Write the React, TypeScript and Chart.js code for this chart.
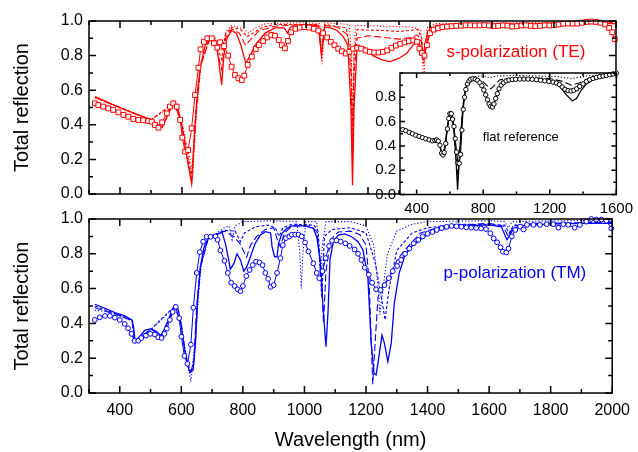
import React, { useEffect, useRef } from "react";
import { Chart, registerables } from "chart.js";

Chart.register(...registerables);

const FONT = "'Liberation Sans', Arial, Helvetica, sans-serif";
const RED = "#ff0000";
const BLUE = "#0000ff";
const BLACK = "#000000";

// ---------- tick labels ----------
const mainXTicks = [400, 600, 800, 1000, 1200, 1400, 1600, 1800, 2000];
const mainXMinor = [300, 500, 700, 900, 1100, 1300, 1500, 1700, 1900];
const mainYTicks = [0, 0.2, 0.4, 0.6, 0.8, 1.0];
const mainYMinor = [0.1, 0.3, 0.5, 0.7, 0.9];
const insetXTicks = [400, 800, 1200, 1600];
const insetXMinor = [600, 1000, 1400];
const insetYTicks = [0, 0.2, 0.4, 0.6, 0.8];
const insetYMinor = [0.1, 0.3, 0.5, 0.7, 0.9, 1.0];

// ---------- s-polarization (TE) ----------
const teExpWl = [319,330,346,362,378,395,411,427,443,459,475,491,502,513,524,536,551,561,572,583,594,601,610,620,631,642,653,660,671,682,696,703,714,723,736,749,760,771,782,793,801,812,825,838,848,862,875,888,900,912,922,932,942,952,966,980,995,1010,1025,1040,1055,1068,1080,1092,1104,1116,1128,1140,1152,1165,1178,1192,1206,1220,1234,1248,1262,1276,1290,1304,1318,1332,1346,1358,1366,1374,1382,1390,1400,1412,1426,1440,1455,1470,1485,1500,1515,1530,1545,1560,1575,1590,1605,1620,1635,1650,1665,1680,1695,1710,1725,1740,1755,1770,1785,1800,1815,1830,1845,1860,1875,1890,1905,1920,1935,1950,1965,1978,1988,1996];
const teExpR = [.524,.514,.505,.495,.486,.472,.457,.447,.434,.428,.426,.422,.418,.399,.383,.414,.466,.505,.524,.505,.428,.326,.245,.254,.380,.572,.730,.836,.880,.900,.900,.871,.846,.877,.855,.800,.736,.688,.669,.659,.684,.746,.794,.838,.861,.884,.905,.920,.915,.890,.860,.842,.885,.935,.955,.962,.965,.962,.955,.945,.930,.905,.880,.860,.840,.825,.812,.822,.840,.845,.840,.830,.822,.818,.818,.822,.830,.845,.858,.868,.876,.884,.888,.880,.840,.815,.800,.860,.930,.950,.958,.965,.968,.970,.972,.973,.975,.975,.974,.975,.976,.974,.970,.972,.975,.973,.968,.970,.974,.975,.972,.970,.972,.975,.974,.976,.980,.984,.986,.985,.985,.990,.995,.997,.995,.990,.980,.960,.935,.895];

const teSolidWl = [320,360,400,450,500,520,535,550,565,575,585,600,615,631,640,650,660,675,690,705,715,728,735,745,760,775,790,806,820,836,868,900,930,940,950,1000,1040,1050,1060,1080,1100,1120,1135,1145,1150,1155,1165,1190,1216,1245,1271,1300,1326,1345,1360,1370,1377,1385,1400,1450,1500,1600,1700,1800,1900,2000];
const teSolidR = [.563,.530,.500,.463,.430,.405,.385,.440,.510,.535,.510,.385,.220,.060,.350,.600,.740,.860,.900,.890,.820,.630,.800,.900,.945,.930,.860,.755,.800,.860,.930,.960,.960,.930,.965,.975,.970,.800,.965,.960,.945,.910,.860,.500,.050,.500,.860,.845,.800,.775,.765,.785,.815,.860,.880,.850,.785,.850,.940,.970,.975,.978,.978,.980,.985,.985];

const teDashWl = [320,400,500,535,575,600,615,632,645,660,690,705,728,740,760,785,805,825,850,900,1000,1040,1050,1060,1100,1135,1145,1150,1155,1165,1200,1250,1300,1340,1360,1372,1378,1385,1400,1420,1500,1700,2000];
const teDashR = [.560,.498,.428,.383,.533,.390,.230,.080,.450,.740,.900,.890,.720,.900,.955,.930,.860,.900,.945,.970,.980,.975,.820,.975,.965,.920,.700,.200,.700,.900,.915,.905,.895,.905,.920,.880,.800,.880,.960,.975,.980,.985,.988];

const teShortWl = [320,500,575,600,615,633,645,660,690,705,728,740,760,790,810,830,860,900,1040,1050,1060,1130,1145,1150,1155,1165,1250,1300,1360,1374,1380,1386,1400,1450,2000];
const teShortR = [.558,.428,.530,.400,.250,.100,.480,.750,.900,.890,.780,.920,.965,.950,.910,.930,.965,.980,.980,.800,.980,.960,.800,.300,.800,.950,.945,.940,.950,.900,.750,.900,.960,.980,.990];

const teDotWl = [320,500,575,600,615,635,648,662,690,710,728,742,760,800,815,835,870,1000,1045,1052,1060,1140,1146,1150,1154,1160,1250,1340,1370,1380,1390,1420,2000];
const teDotR = [.555,.426,.525,.420,.280,.130,.500,.760,.905,.900,.830,.940,.975,.955,.930,.960,.985,.990,.985,.750,.990,.980,.800,.400,.800,.975,.970,.965,.950,.650,.960,.985,.995];

// ---------- p-polarization (TM) ----------
const tmExpWl = [319,335,352,368,384,400,416,427,438,448,460,470,485,499,514,525,536,545,553,563,572,582,593,600,610,620,631,639,650,660,671,682,695,711,718,727,740,751,762,773,783,792,800,811,822,832,843,854,864,873,882,890,900,911,922,930,940,951,959,970,981,991,1002,1013,1029,1040,1048,1059,1069,1080,1090,1104,1118,1133,1147,1163,1174,1185,1196,1209,1220,1233,1247,1260,1274,1287,1301,1314,1327,1341,1355,1370,1384,1400,1416,1430,1446,1462,1478,1494,1510,1526,1542,1558,1574,1590,1604,1615,1626,1637,1645,1656,1663,1674,1685,1701,1712,1723,1744,1765,1787,1808,1825,1841,1857,1878,1895,1916,1932,1948,1965,1981,1997];
const tmExpR = [.420,.435,.443,.443,.433,.420,.397,.372,.340,.300,.300,.316,.330,.340,.336,.320,.316,.340,.370,.420,.466,.495,.430,.324,.213,.168,.278,.490,.690,.810,.870,.898,.898,.900,.880,.820,.760,.690,.634,.615,.596,.585,.615,.672,.707,.735,.755,.750,.735,.690,.656,.610,.620,.690,.775,.850,.890,.900,.910,.910,.910,.900,.865,.814,.745,.690,.660,.700,.775,.845,.875,.877,.870,.860,.845,.825,.800,.765,.720,.680,.634,.596,.592,.620,.660,.700,.730,.765,.800,.830,.860,.880,.900,.915,.925,.937,.948,.955,.960,.958,.955,.952,.950,.948,.946,.942,.918,.889,.866,.837,.812,.808,.830,.900,.937,.956,.940,.966,.966,.966,.970,.970,.950,.970,.966,.950,.966,.985,1.0,.997,.997,.990,.946];

const tmSolidWl = [319,352,384,416,440,445,450,464,481,502,518,534,550,566,579,590,600,611,625,638,646,653,662,674,687,700,716,732,743,754,759,771,781,792,803,813,824,840,857,873,890,895,903,911,916,927,943,959,1002,1029,1040,1051,1061,1070,1077,1083,1094,1110,1131,1153,1174,1190,1206,1217,1226,1233,1242,1252,1260,1271,1282,1292,1308,1325,1346,1368,1389,1411,1432,1470,1520,1600,1640,1658,1680,1720,1800,1900,2000];
const tmSolidR = [.510,.487,.462,.443,.420,.380,.290,.324,.360,.370,.354,.330,.383,.458,.505,.480,.383,.247,.132,.130,.285,.535,.726,.840,.887,.898,.910,.925,.860,.765,.710,.745,.800,.765,.700,.726,.780,.860,.908,.927,.920,.840,.783,.783,.860,.918,.946,.960,.960,.946,.898,.765,.477,.266,.477,.765,.870,.908,.914,.898,.870,.822,.668,.285,.113,.104,.209,.333,.285,.180,.285,.515,.690,.783,.840,.870,.898,.918,.933,.950,.960,.966,.955,.880,.946,.966,.970,.975,.975];

const tmDashWl = [319,384,440,448,464,502,534,579,600,611,628,640,650,662,687,716,740,770,790,812,825,845,873,900,912,922,935,960,1020,1040,1055,1062,1070,1085,1110,1150,1180,1200,1210,1217,1222,1230,1239,1255,1271,1300,1325,1377,1450,1600,1645,1662,1680,1750,2000];
const tmDashR = [.490,.455,.415,.300,.320,.365,.330,.500,.390,.250,.120,.160,.500,.720,.885,.910,.930,.900,.860,.780,.850,.900,.940,.950,.880,.840,.920,.960,.960,.930,.700,.400,.700,.880,.925,.930,.910,.850,.650,.300,.050,.300,.550,.620,.650,.760,.820,.920,.960,.975,.960,.900,.960,.975,.980];

const tmShortWl = [319,384,440,448,502,579,600,611,630,642,652,662,687,716,740,775,792,805,840,880,905,918,930,960,1030,1045,1056,1065,1090,1150,1200,1230,1250,1262,1275,1300,1350,1400,1500,1650,1665,1680,2000];
const tmShortR = [.500,.458,.418,.300,.368,.500,.390,.250,.110,.200,.520,.730,.890,.915,.935,.930,.870,.920,.955,.965,.950,.900,.950,.970,.965,.930,.550,.900,.940,.950,.920,.750,.550,.420,.600,.820,.920,.950,.970,.965,.920,.965,.985];

const tmDotWl = [319,352,384,440,448,502,579,600,615,631,645,655,665,687,716,740,755,765,775,800,900,975,985,990,995,1005,1040,1048,1052,1058,1070,1150,1200,1225,1240,1245,1255,1270,1300,1350,1400,1600,1650,1662,1675,2000];
const tmDotR = [.475,.470,.452,.415,.300,.365,.495,.400,.220,.065,.300,.550,.740,.890,.920,.950,.960,.880,.960,.985,.990,.985,.800,.600,.800,.985,.985,.800,.650,.850,.985,.985,.960,.850,.600,.450,.600,.800,.930,.970,.985,.990,.985,.950,.985,.995];

// ---------- flat reference (inset) ----------
const flatExpWl = [316,335,355,375,395,415,435,455,475,495,510,520,530,540,550,558,566,575,585,593,600,608,616,624,632,640,648,656,664,672,680,688,696,705,715,725,738,752,766,780,792,804,815,826,836,845,855,865,875,885,895,908,922,938,955,975,995,1020,1045,1070,1095,1120,1145,1170,1195,1220,1240,1258,1275,1292,1310,1328,1345,1362,1380,1400,1420,1440,1460,1480,1500,1520,1540,1560,1580,1600];
const flatExpR = [.534,.525,.512,.500,.488,.478,.468,.458,.450,.442,.445,.450,.440,.406,.340,.325,.345,.420,.540,.625,.665,.665,.620,.560,.460,.350,.260,.256,.330,.530,.700,.800,.865,.910,.935,.948,.953,.950,.940,.920,.895,.860,.820,.780,.745,.725,.720,.745,.790,.830,.870,.900,.920,.935,.942,.946,.948,.950,.950,.950,.948,.945,.940,.935,.930,.925,.918,.905,.885,.865,.855,.852,.858,.870,.890,.910,.930,.945,.955,.963,.970,.975,.980,.986,.992,.998];

const flatSolidWl = [316,400,500,520,535,550,558,570,585,600,612,625,638,646,655,668,680,692,705,725,745,770,795,815,835,848,862,880,900,925,970,1050,1150,1220,1260,1300,1336,1360,1390,1420,1460,1520,1600];
const flatSolidR = [.535,.485,.442,.452,.425,.340,.320,.390,.560,.670,.650,.520,.250,.040,.250,.550,.740,.860,.920,.950,.955,.940,.890,.820,.745,.720,.740,.820,.890,.925,.945,.950,.940,.925,.890,.820,.770,.790,.860,.910,.945,.965,.985];

const flatDashWl = [316,400,500,520,535,550,558,570,585,600,612,625,638,648,658,668,680,692,705,725,745,790,820,845,870,900,1000,1200,1280,1330,1380,1440,1600];
const flatDashR = [.533,.483,.440,.450,.423,.345,.330,.395,.560,.665,.645,.525,.300,.150,.300,.560,.745,.865,.925,.955,.960,.940,.900,.870,.900,.945,.960,.955,.930,.900,.920,.960,.990];

const flatDotWl = [316,400,500,520,535,550,558,570,585,600,612,625,640,650,660,670,682,695,710,745,800,840,880,1000,1250,1330,1420,1600];
const flatDotR = [.530,.480,.438,.448,.420,.350,.340,.400,.560,.660,.640,.530,.350,.250,.350,.570,.760,.875,.930,.970,.975,.960,.975,.980,.970,.955,.975,.995];

// ---------- helpers ----------
type P = { x: number; y: number };
const pts = (xs: number[], ys: number[]): P[] => xs.map((x, i) => ({ x, y: ys[i] }));

function simLine(xs: number[], ys: number[], color: string, style: string) {
  const dash =
    style === "dash" ? [7, 3] : style === "short" ? [3, 2] : style === "dot" ? [1.2, 2] : [];
  return {
    data: pts(xs, ys),
    borderColor: color,
    borderWidth: style === "solid" ? 1.3 : 1.1,
    borderDash: dash,
    pointRadius: 0,
    fill: false,
    tension: 0,
  };
}

function expLine(xs: number[], ys: number[], color: string, pointStyle: string, r: number) {
  return {
    data: pts(xs, ys),
    borderColor: color,
    borderWidth: 1,
    pointStyle,
    pointRadius: r,
    pointBorderColor: color,
    pointBackgroundColor: "#ffffff",
    pointBorderWidth: 1,
    fill: false,
    tension: 0,
    clip: 4,
  };
}

interface TickCfg {
  xMajor: number[];
  xMinor: number[];
  yMajor: number[];
  yMinor: number[];
  maj: number;
  min: number;
  lw: number;
  white?: boolean;
}

function framePlugin(cfg: TickCfg) {
  return {
    id: "frameTicks",
    beforeDraw(chart: any) {
      if (!cfg.white) return;
      const { ctx, chartArea: a } = chart;
      ctx.save();
      ctx.fillStyle = "#ffffff";
      ctx.fillRect(a.left, a.top, a.right - a.left, a.bottom - a.top);
      ctx.restore();
    },
    afterDatasetsDraw(chart: any) {
      const { ctx, chartArea: a } = chart;
      const sx = chart.scales.x;
      const sy = chart.scales.y;
      ctx.save();
      ctx.strokeStyle = BLACK;
      ctx.lineWidth = cfg.lw;
      ctx.beginPath();
      const xt = (vals: number[], len: number) =>
        vals.forEach((v) => {
          const p = sx.getPixelForValue(v);
          ctx.moveTo(p, a.top);
          ctx.lineTo(p, a.top + len);
          ctx.moveTo(p, a.bottom);
          ctx.lineTo(p, a.bottom - len);
        });
      const yt = (vals: number[], len: number) =>
        vals.forEach((v) => {
          const p = sy.getPixelForValue(v);
          ctx.moveTo(a.left, p);
          ctx.lineTo(a.left + len, p);
          ctx.moveTo(a.right, p);
          ctx.lineTo(a.right - len, p);
        });
      xt(cfg.xMajor, cfg.maj);
      xt(cfg.xMinor, cfg.min);
      yt(cfg.yMajor, cfg.maj);
      yt(cfg.yMinor, cfg.min);
      ctx.stroke();
      ctx.strokeRect(a.left, a.top, a.right - a.left, a.bottom - a.top);
      ctx.restore();
    },
  };
}

function textPlugin(items: { text: string; x: number; y: number; color: string; size: number }[]) {
  return {
    id: "annot",
    afterDraw(chart: any) {
      const { ctx } = chart;
      const sx = chart.scales.x;
      const sy = chart.scales.y;
      ctx.save();
      ctx.textAlign = "center";
      ctx.textBaseline = "middle";
      items.forEach((it) => {
        ctx.font = `${it.size}px ${FONT}`;
        ctx.fillStyle = it.color;
        ctx.fillText(it.text, sx.getPixelForValue(it.x), sy.getPixelForValue(it.y));
      });
      ctx.restore();
    },
  };
}

const setTicks = (vals: number[]) => (s: any) => {
  s.ticks = vals.map((v) => ({ value: v }));
};

const baseOptions = (padding: any) => ({
  responsive: false,
  animation: false as const,
  devicePixelRatio: 1,
  events: [] as any[],
  layout: { padding },
  plugins: { legend: { display: false }, tooltip: { enabled: false }, title: { display: false } },
});

const yAxis = (title: string | null, width: number, ticks: number[], size: number, pad: number, maxV: number) => ({
  type: "linear" as const,
  min: 0,
  max: maxV,
  afterBuildTicks: setTicks(ticks),
  afterFit: (s: any) => {
    s.width = width;
  },
  grid: { display: false, drawTicks: false },
  border: { display: false },
  ticks: {
    padding: pad,
    color: BLACK,
    font: { family: FONT, size },
    autoSkip: false,
    callback: (v: any) => Number(v).toFixed(1),
  },
  title: title
    ? { display: true, text: title, color: BLACK, font: { family: FONT, size: 20 }, padding: { top: 10, bottom: 0 } }
    : { display: false },
});

const xTickLabel = (v: any) => String(Math.round(Number(v)));

function topConfig(): any {
  return {
    type: "line",
    data: {
      datasets: [
        expLine(teExpWl, teExpR, RED, "rect", 3.4),
        simLine(teSolidWl, teSolidR, RED, "solid"),
        simLine(teDashWl, teDashR, RED, "dash"),
        simLine(teShortWl, teShortR, RED, "short"),
        simLine(teDotWl, teDotR, RED, "dot"),
      ],
    },
    options: {
      ...baseOptions({ left: 0, right: 22, top: 21, bottom: 258 }),
      scales: {
        x: { type: "linear", min: 300, max: 2000, display: false },
        y: yAxis("Total reflection", 89, mainYTicks, 16, 6, 1.0),
      },
    },
    plugins: [
      framePlugin({ xMajor: mainXTicks, xMinor: mainXMinor, yMajor: mainYTicks, yMinor: mainYMinor, maj: 7, min: 4, lw: 1.5 }),
      textPlugin([{ text: "s-polarization (TE)", x: 1677, y: 0.82, color: RED, size: 17 }]),
    ],
  };
}

function bottomConfig(): any {
  return {
    type: "line",
    data: {
      datasets: [
        expLine(tmExpWl, tmExpR, BLUE, "circle", 2.4),
        simLine(tmSolidWl, tmSolidR, BLUE, "solid"),
        simLine(tmDashWl, tmDashR, BLUE, "dash"),
        simLine(tmShortWl, tmShortR, BLUE, "short"),
        simLine(tmDotWl, tmDotR, BLUE, "dot"),
      ],
    },
    options: {
      ...baseOptions({ left: 0, right: 22, top: 219, bottom: 0 }),
      scales: {
        x: {
          type: "linear",
          min: 300,
          max: 2000,
          afterBuildTicks: setTicks(mainXTicks),
          afterFit: (s: any) => {
            s.height = 59;
          },
          grid: { display: false, drawTicks: false },
          border: { display: false },
          ticks: { padding: 8, color: BLACK, font: { family: FONT, size: 16 }, autoSkip: false, maxRotation: 0, minRotation: 0, callback: xTickLabel },
          title: { display: true, text: "Wavelength (nm)", color: BLACK, font: { family: FONT, size: 20 }, padding: { top: 0, bottom: 0 } },
        },
        y: yAxis("Total reflection", 89, mainYTicks, 16, 6, 1.0),
      },
    },
    plugins: [
      framePlugin({ xMajor: mainXTicks, xMinor: mainXMinor, yMajor: mainYTicks, yMinor: mainYMinor, maj: 7, min: 4, lw: 1.5 }),
      textPlugin([{ text: "p-polarization (TM)", x: 1684, y: 0.69, color: BLUE, size: 17 }]),
    ],
  };
}

function insetConfig(): any {
  return {
    type: "line",
    data: {
      datasets: [
        expLine(flatExpWl, flatExpR, BLACK, "circle", 2.2),
        simLine(flatSolidWl, flatSolidR, BLACK, "solid"),
        simLine(flatDashWl, flatDashR, BLACK, "dash"),
        simLine(flatDotWl, flatDotR, BLACK, "dot"),
      ],
    },
    options: {
      ...baseOptions({ left: 0, right: 21, top: 73, bottom: 0 }),
      scales: {
        x: {
          type: "linear",
          min: 300,
          max: 1600,
          afterBuildTicks: setTicks(insetXTicks),
          afterFit: (s: any) => {
            s.height = 257.5;
          },
          grid: { display: false, drawTicks: false },
          border: { display: false },
          ticks: { padding: 5, color: BLACK, font: { family: FONT, size: 15 }, autoSkip: false, maxRotation: 0, minRotation: 0, callback: xTickLabel },
        },
        y: yAxis(null, 400, insetYTicks, 15, 4, 1.0),
      },
    },
    plugins: [
      framePlugin({ xMajor: insetXTicks, xMinor: insetXMinor, yMajor: insetYTicks, yMinor: insetYMinor, maj: 5, min: 3, lw: 1.5, white: true }),
      textPlugin([{ text: "flat reference", x: 1026, y: 0.47, color: BLACK, size: 13 }]),
    ],
  };
}

export default function App() {
  const bRef = useRef<HTMLCanvasElement | null>(null);
  const tRef = useRef<HTMLCanvasElement | null>(null);
  const iRef = useRef<HTMLCanvasElement | null>(null);

  useEffect(() => {
    const charts: Chart[] = [];
    if (bRef.current) charts.push(new Chart(bRef.current, bottomConfig()));
    if (tRef.current) charts.push(new Chart(tRef.current, topConfig()));
    if (iRef.current) charts.push(new Chart(iRef.current, insetConfig()));
    return () => charts.forEach((c) => c.destroy());
  }, []);

  const cs: React.CSSProperties = { position: "absolute", left: 0, top: 0, width: 638, height: 452 };
  return (
    <div style={{ position: "fixed", left: 0, top: 0, width: 638, height: 452, background: "#ffffff", overflow: "hidden" }}>
      <canvas ref={bRef} width={638} height={452} style={cs} />
      <canvas ref={tRef} width={638} height={452} style={cs} />
      <canvas ref={iRef} width={638} height={452} style={cs} />
    </div>
  );
}
